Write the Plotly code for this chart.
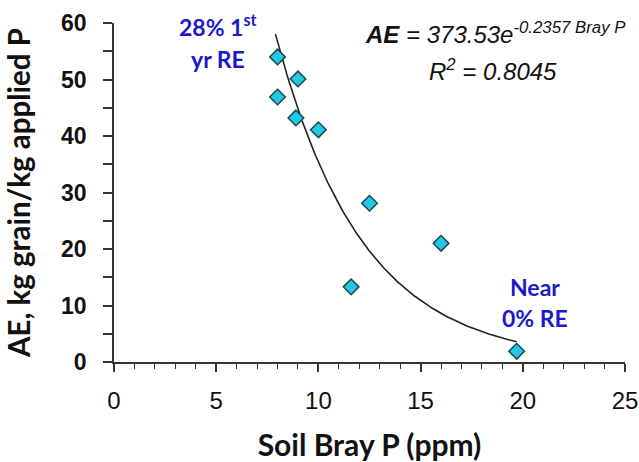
import numpy as np
import plotly.graph_objects as go

# Data
bray_p = [8.0, 9.0, 8.0, 8.9, 10.0, 12.5, 16.0, 11.6, 19.7]
ae = [54.0, 50.1, 46.9, 43.2, 41.1, 28.1, 21.0, 13.3, 1.9]

# Fitted exponential trend: AE = 373.53 * exp(-0.2357 * BrayP)
fit_a = 373.53
fit_b = -0.2357
fit_x_start = 7.9
fit_x_end = 19.7

x_ticks = [0, 5, 10, 15, 20, 25]
y_ticks = [0, 10, 20, 30, 40, 50, 60]

fit_x = np.linspace(fit_x_start, fit_x_end, 200)
fit_y = fit_a * np.exp(fit_b * fit_x)

fig = go.Figure()
fig.add_trace(go.Scatter(
    x=fit_x, y=fit_y, mode="lines",
    line=dict(color="#222222", width=1.6),
    showlegend=False, hoverinfo="skip",
))
fig.add_trace(go.Scatter(
    x=bray_p, y=ae, mode="markers",
    marker=dict(symbol="diamond", size=12, color="#22C8E6",
                line=dict(color="#1B4A4A", width=1.5)),
    showlegend=False, cliponaxis=False,
))

blue = "#1A1ACC"
ann_font = dict(family="Lato, Noto Sans, sans-serif", size=23, color=blue, weight="bold")
eq_font = dict(family="Liberation Sans, Arial, sans-serif", size=24, color="#111111")

annotations = [
    dict(x=5.1, y=59.5, text="28% 1<sup>st</sup>", font=ann_font),
    dict(x=5.1, y=53.6, text="yr RE", font=ann_font),
    dict(x=20.6, y=13.3, text="Near", font=ann_font),
    dict(x=20.6, y=7.8, text="0% RE", font=ann_font),
    dict(x=12.2, y=58.2, xanchor="left",
         text="<i><b>AE</b> = 373.53e<sup>-0.2357 Bray P</sup></i>", font=eq_font),
    dict(x=15.3, y=51.6, xanchor="left",
         text="<i>R<sup>2</sup> = 0.8045</i>", font=eq_font),
]
for a in annotations:
    a.update(xref="x", yref="y", showarrow=False)
    a.setdefault("xanchor", "center")
    a.setdefault("yanchor", "middle")

fig.update_layout(
    width=639, height=462,
    margin=dict(l=114, r=14, t=23, b=100),
    paper_bgcolor="white", plot_bgcolor="white",
    annotations=annotations,
    xaxis=dict(
        range=[0, 25], tickvals=x_ticks, ticktext=[str(v) for v in x_ticks],
        automargin=False,
        showgrid=False, zeroline=False, showline=True,
        linecolor="#333333", linewidth=1.5,
        ticks="outside", ticklen=8, tickwidth=1.5, tickcolor="#333333",
        ticklabelstandoff=8,
        minor=dict(dtick=1, ticks="outside", ticklen=5, tickwidth=1.2, tickcolor="#333333"),
        tickfont=dict(family="Liberation Sans Narrow, Arial Narrow, Liberation Sans, sans-serif",
                      size=24, color="#111111"),
        title=dict(text="Soil Bray P (ppm)",
                   font=dict(family="Lato, Noto Sans, sans-serif", size=30,
                             color="#111111", weight="bold"),
                   standoff=32),
    ),
    yaxis=dict(
        range=[0, 60], tickvals=y_ticks,
        automargin=False,
        showgrid=False, zeroline=False, showline=True,
        linecolor="#333333", linewidth=1.5,
        ticks="outside", ticklen=9, tickwidth=1.5, tickcolor="#333333",
        ticklabelstandoff=12,
        minor=dict(dtick=5, ticks="outside", ticklen=9, tickwidth=1.5, tickcolor="#333333"),
        tickfont=dict(family="Liberation Sans, Arial, sans-serif", size=23,
                      color="#111111", weight="bold"),
        title=dict(text="AE, kg grain/kg applied P",
                   font=dict(family="Lato, Noto Sans, sans-serif", size=29.5,
                             color="#111111", weight="bold"),
                   standoff=22),
    ),
)

fig.write_html(
    "out.html",
    config={"displayModeBar": False},
    post_script="document.body.style.margin='0';document.body.style.overflow='hidden';",
)
